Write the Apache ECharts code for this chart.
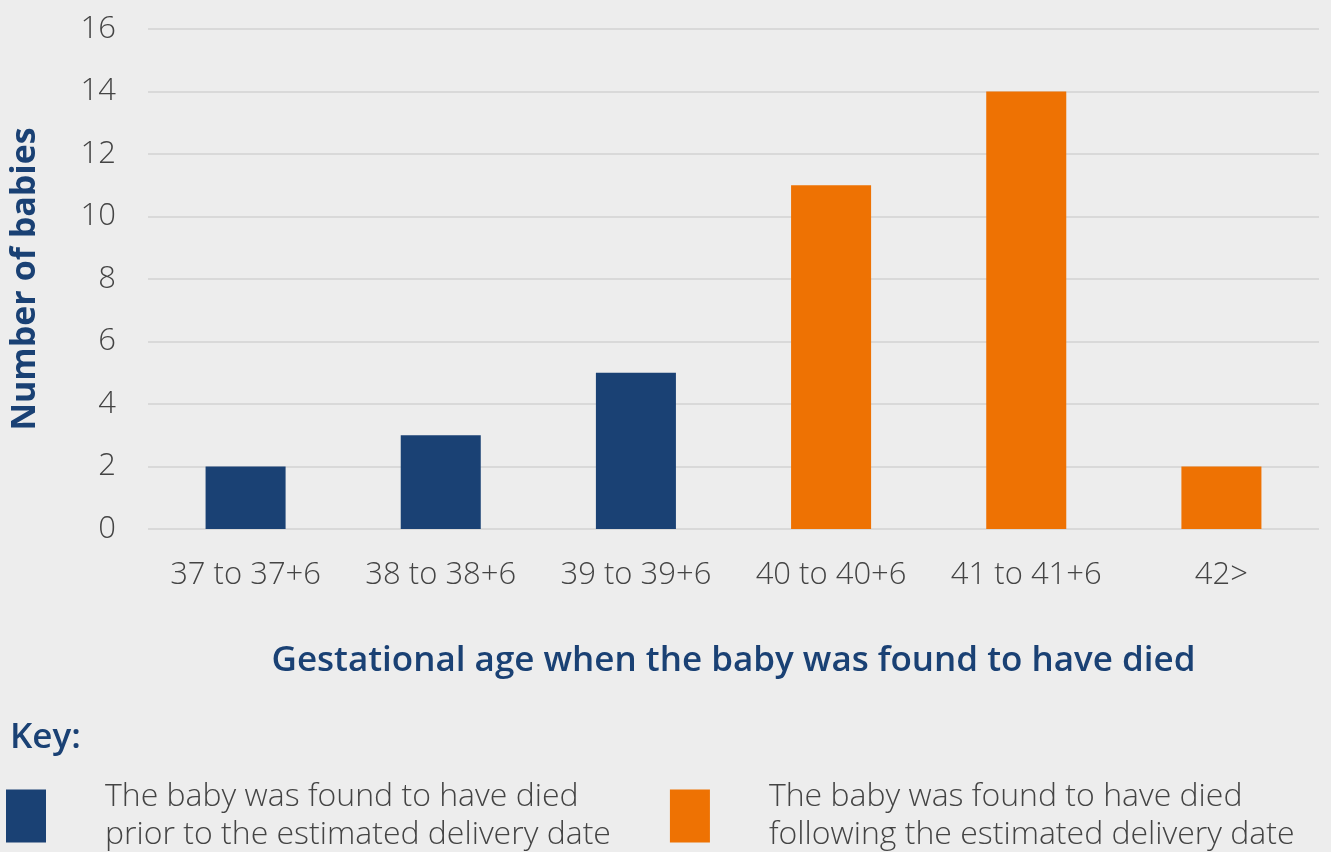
<!DOCTYPE html>
<html>
<head>
<meta charset="utf-8">
<script src="https://cdn.jsdelivr.net/npm/echarts@6/dist/echarts.min.js"></script>
<style>
html,body{margin:0;padding:0;background:#ededed;}
#chart{width:1331px;height:852px;}
</style>
</head>
<body>
<div id="chart"></div>
<script>
var categories = ['37 to 37+6','38 to 38+6','39 to 39+6','40 to 40+6','41 to 41+6','42>'];
var priorValues = [2, 3, 5, '-', '-', '-'];
var followingValues = ['-', '-', '-', 11, 14, 2];
var yTicks = {min: 0, max: 16, interval: 2};
var seriesNames = ['The baby was found to have died\nprior to the estimated delivery date',
                   'The baby was found to have died\nfollowing the estimated delivery date'];

var BLUE = '#1a4174', ORANGE = '#ee7203', TXT = '#444444';
var FONT = '"Open Sans", sans-serif';

var chart = echarts.init(document.getElementById('chart'));
chart.setOption({
  backgroundColor: '#ededed',
  animation: false,
  textStyle: {fontFamily: FONT},
  grid: {left: 146, right: 12, top: 29, bottom: 323, containLabel: false},
  xAxis: {
    type: 'category',
    data: categories,
    axisLine: {show: false},
    axisTick: {show: false},
    axisLabel: {color: TXT, fontSize: 31, fontWeight: 300, fontFamily: FONT, margin: 31, interval: 0},
    name: 'Gestational age when the baby was found to have died',
    nameLocation: 'middle',
    nameGap: 115,
    nameTextStyle: {color: BLUE, fontSize: 35, fontWeight: 600, fontFamily: FONT}
  },
  yAxis: {
    type: 'value',
    min: yTicks.min, max: yTicks.max, interval: yTicks.interval,
    axisLine: {show: false},
    axisTick: {show: false},
    splitLine: {lineStyle: {color: '#d9d9d9', width: 2}},
    axisLabel: {color: TXT, fontSize: 31, fontWeight: 300, fontFamily: FONT, margin: 32},
    name: 'Number of babies',
    nameLocation: 'middle',
    nameGap: 106,
    nameRotate: 90,
    nameTextStyle: {color: BLUE, fontSize: 34, fontWeight: 'bold', fontFamily: FONT}
  },
  legend: {
    left: 6, top: 773,
    padding: 0,
    itemWidth: 40, itemHeight: 53,
    itemGap: 59,
    icon: 'rect',
    selectedMode: false,
    textStyle: {color: TXT, fontSize: 32, fontWeight: 300, fontFamily: FONT, lineHeight: 38, padding: [10, 0, 0, 54]},
    data: seriesNames
  },
  graphic: [{
    type: 'text', left: 10, top: 721,
    style: {text: 'Key:', fill: BLUE, font: '600 35px "Open Sans", sans-serif'}
  }],
  series: [
    {name: seriesNames[0], type: 'bar', stack: 'all', data: priorValues, barWidth: '41%', itemStyle: {color: BLUE}},
    {name: seriesNames[1], type: 'bar', stack: 'all', data: followingValues, barWidth: '41%', itemStyle: {color: ORANGE}}
  ]
});
</script>
</body>
</html>
